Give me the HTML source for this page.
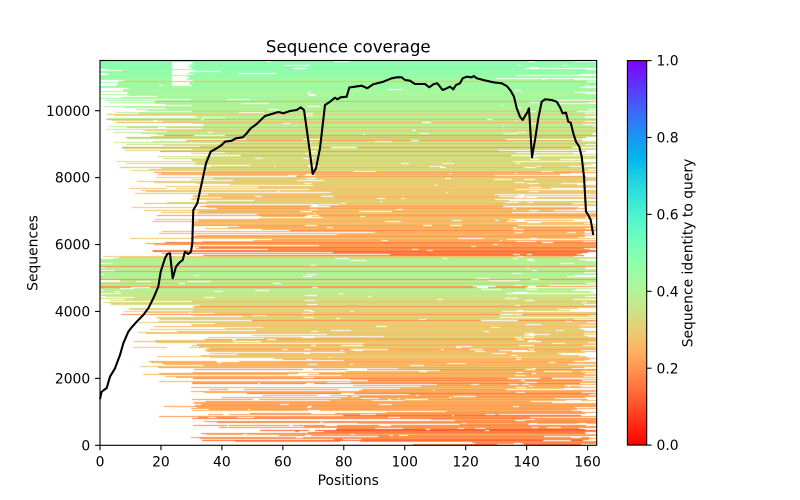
<!DOCTYPE html>
<html><head><meta charset="utf-8"><style>
html,body{margin:0;padding:0;background:#fff;width:800px;height:500px;overflow:hidden}
#c{position:absolute;left:100px;top:60px}
svg{position:absolute;left:0;top:0}
text{font-family:"DejaVu Sans","Liberation Sans",sans-serif;fill:#000}
</style></head><body>
<canvas id="c" width="497" height="385"></canvas>
<svg width="800" height="500" viewBox="0 0 800 500">
<defs>
<linearGradient id="cb" x1="0" y1="0" x2="0" y2="1">
<stop offset="0" stop-color="rgb(128,0,255)"/>
<stop offset="0.05" stop-color="rgb(102,40,254)"/>
<stop offset="0.1" stop-color="rgb(77,79,252)"/>
<stop offset="0.15" stop-color="rgb(51,116,248)"/>
<stop offset="0.2" stop-color="rgb(26,150,243)"/>
<stop offset="0.25" stop-color="rgb(0,180,236)"/>
<stop offset="0.3" stop-color="rgb(26,206,227)"/>
<stop offset="0.35" stop-color="rgb(51,227,218)"/>
<stop offset="0.4" stop-color="rgb(77,243,206)"/>
<stop offset="0.45" stop-color="rgb(102,252,194)"/>
<stop offset="0.5" stop-color="rgb(128,255,180)"/>
<stop offset="0.55" stop-color="rgb(153,252,165)"/>
<stop offset="0.6" stop-color="rgb(179,243,150)"/>
<stop offset="0.65" stop-color="rgb(204,227,133)"/>
<stop offset="0.7" stop-color="rgb(230,206,116)"/>
<stop offset="0.75" stop-color="rgb(255,180,98)"/>
<stop offset="0.8" stop-color="rgb(255,150,79)"/>
<stop offset="0.85" stop-color="rgb(255,116,59)"/>
<stop offset="0.9" stop-color="rgb(255,79,40)"/>
<stop offset="0.95" stop-color="rgb(255,40,20)"/>
<stop offset="1" stop-color="rgb(255,0,0)"/>
</linearGradient>
</defs>

<!-- coverage line -->
<polyline fill="none" stroke="#000" stroke-width="2.08" stroke-linejoin="round" points="100,399 101.5,392 103.3,390.5 106.7,388 110,376.7 115,368.3 120,355 123.3,343.3 128.3,331.7 131.7,327.3 136.7,321.7 143.3,315 148.3,308.3 153.3,298.3 158.3,286.7 160.7,271.7 165,258.3 167.3,254 170,253.3 172.7,278.3 176,266.7 179.3,262.7 182.7,260 185,251.7 188.3,254 191,251.7 192.3,243 193.3,210 197.3,203.3 201.7,183.3 206,163.3 210.7,151.7 216,148.7 221.7,145 225,141.7 231.7,140.7 236,138.3 242.7,137.3 246.7,133.3 250.7,128.3 256.7,124 260,120.7 265,116 271.7,114 278.3,112 283.3,113.3 290,111 296.7,110 300.7,107.3 304,110 307.3,133.3 310,153.3 312.7,174 316,168.3 320,148.3 325,105 330,101.7 335,97.7 337.3,99.3 340.7,97.3 346.7,96.7 349.3,87.5 355,86.7 361.7,85.7 367.3,88.3 373.3,84.3 383.3,81.7 391.7,78.3 396.7,77.3 401.7,77.3 405,80 410,80.7 415,84 425,84 429.3,87.3 433.3,84.3 437.3,83.3 442.7,90 446.7,88.3 450,86.7 453.3,89.3 456,85 460,83.3 462.7,78.3 466.7,76.7 471.7,77.3 474,76 476.7,78.3 483.3,80 493.3,82.3 501.7,83.3 506.7,86 510.7,90.7 514,96.7 516.7,108.3 520,116.7 522.7,120 526.7,113.3 529,108.3 532,157.3 535,140 538.3,118.3 541.7,101.7 545,99.3 551.7,100 556.7,101.7 560,107.3 562.7,113.3 566,112.7 568.3,121.7 570.7,122.7 573.3,133.3 576,141.7 579.3,146.7 581.7,156.7 584,176.7 586,211.7 588.3,215 590.7,220 593.3,235"/>

<!-- axes frame -->
<rect x="100" y="60.5" width="496.7" height="384.8" fill="none" stroke="#000" stroke-width="1.11"/>

<!-- x ticks -->
<g stroke="#000" stroke-width="1.11">
<line x1="100" y1="445.3" x2="100" y2="450.2"/>
<line x1="160.94" y1="445.3" x2="160.94" y2="450.2"/>
<line x1="221.89" y1="445.3" x2="221.89" y2="450.2"/>
<line x1="282.83" y1="445.3" x2="282.83" y2="450.2"/>
<line x1="343.78" y1="445.3" x2="343.78" y2="450.2"/>
<line x1="404.72" y1="445.3" x2="404.72" y2="450.2"/>
<line x1="465.66" y1="445.3" x2="465.66" y2="450.2"/>
<line x1="526.61" y1="445.3" x2="526.61" y2="450.2"/>
<line x1="587.55" y1="445.3" x2="587.55" y2="450.2"/>
<!-- y ticks -->
<line x1="100" y1="445.3" x2="95.1" y2="445.3"/>
<line x1="100" y1="378.38" x2="95.1" y2="378.38"/>
<line x1="100" y1="311.46" x2="95.1" y2="311.46"/>
<line x1="100" y1="244.54" x2="95.1" y2="244.54"/>
<line x1="100" y1="177.62" x2="95.1" y2="177.62"/>
<line x1="100" y1="110.7" x2="95.1" y2="110.7"/>
<!-- colorbar ticks -->
<line x1="646.7" y1="445.1" x2="651.6" y2="445.1"/>
<line x1="646.7" y1="368.2" x2="651.6" y2="368.2"/>
<line x1="646.7" y1="291.3" x2="651.6" y2="291.3"/>
<line x1="646.7" y1="214.4" x2="651.6" y2="214.4"/>
<line x1="646.7" y1="137.5" x2="651.6" y2="137.5"/>
<line x1="646.7" y1="60.6" x2="651.6" y2="60.6"/>
</g>

<g font-size="13.89" text-anchor="middle">
<text x="100" y="466.6">0</text>
<text x="160.94" y="466.6">20</text>
<text x="221.89" y="466.6">40</text>
<text x="282.83" y="466.6">60</text>
<text x="343.78" y="466.6">80</text>
<text x="404.72" y="466.6">100</text>
<text x="465.66" y="466.6">120</text>
<text x="526.61" y="466.6">140</text>
<text x="587.55" y="466.6">160</text>
</g>
<g font-size="13.89" text-anchor="end">
<text x="90.2" y="450.35">0</text>
<text x="90.2" y="383.43">2000</text>
<text x="90.2" y="316.51">4000</text>
<text x="90.2" y="249.59">6000</text>
<text x="90.2" y="182.67">8000</text>
<text x="90.2" y="115.75">10000</text>
</g>
<g font-size="13.89" text-anchor="start">
<text x="656.5" y="450.15">0.0</text>
<text x="656.5" y="373.25">0.2</text>
<text x="656.5" y="296.35">0.4</text>
<text x="656.5" y="219.45">0.6</text>
<text x="656.5" y="142.55">0.8</text>
<text x="656.5" y="65.65">1.0</text>
</g>

<text x="348.3" y="485" font-size="13.89" text-anchor="middle">Positions</text>
<text font-size="13.89" text-anchor="middle" transform="translate(37.6,253) rotate(-90)">Sequences</text>
<text x="348.3" y="52.7" font-size="16.67" text-anchor="middle">Sequence coverage</text>

<!-- colorbar -->
<rect x="627.4" y="60.6" width="19.3" height="384.5" fill="url(#cb)" stroke="#000" stroke-width="1.11"/>
<text font-size="13.89" text-anchor="middle" transform="translate(692.6,253) rotate(-90)">Sequence identity to query</text>
</svg>

<script>
(function(){
var cv=document.getElementById('c'),ctx=cv.getContext('2d');
ctx.fillStyle='#fff';ctx.fillRect(0,0,497,385);
var sd=987654321;
function R(){sd^=sd<<13;sd>>>=0;sd^=sd>>>17;sd^=sd<<5;sd>>>=0;return sd/4294967296;}
function interp(xs,ys,x){if(x<=xs[0])return ys[0];for(var i=1;i<xs.length;i++){if(x<=xs[i]){var t=(x-xs[i-1])/(xs[i]-xs[i-1]);return ys[i-1]+t*(ys[i]-ys[i-1]);}}return ys[ys.length-1];}
function col(v){v=Math.max(0,Math.min(1,v));var x=1-v;var r=Math.min(1,Math.abs(2*x-0.5)),g=Math.sin(Math.PI*x),b=Math.cos(Math.PI*x/2);return 'rgb('+Math.round(r*255)+','+Math.round(g*255)+','+Math.round(b*255)+')';}
function pois(l){var L=Math.exp(-l),p=1,k=0;do{k++;p*=R();}while(p>L);return k-1;}
var N=385,rows=[];
for(var r=0;r<N;r++){
 var y=60+r,base,bias,lam,sp;
 if(y<256){
  base=interp([60,64,70,80,100,120,140,160,180,200,220,240,248,252,256],[0.50,0.48,0.46,0.44,0.42,0.39,0.36,0.33,0.30,0.28,0.26,0.23,0.2,0.16,0.13],y);
  bias=interp([60,72,100,150,256],[0,0.15,0.35,0.6,0.75],y);
  sp=interp([60,90,110,150,250],[0,0.05,0.15,0.3,0.3],y);
  lam=interp([60,256],[0.3,0.8],y);
 }else{
  base=interp([256,260,290,300,330,360,390,420,445],[0.3,0.41,0.39,0.33,0.29,0.26,0.22,0.2,0.17],y);
  bias=interp([256,260,290,300,330,445],[0.3,0.05,0.1,0.45,0.7,0.85],y);
  sp=interp([256,290,300,445],[0.1,0.15,0.3,0.3],y);
  lam=interp([256,330,445],[0.5,0.8,1.3],y);
 }
 var v=base+(R()-0.5)*0.04;
 if(R()<sp){ if(base>0.3) v=0.18+R()*0.1; else v=base+(R()-0.5)*0.16; }
 rows.push({v:v,score:bias+R()*0.55,lam:lam,y:y});
}
var idx=[];for(var i=0;i<N;i++)idx.push(i);
idx.sort(function(a,b){return rows[a].score-rows[b].score;});
for(var k=0;k<N;k++){rows[idx[k]].u=(k+R())/N;}
var Fs=[0.12,0.18,0.23,0.30,0.34,0.38,0.45,0.50,0.51,0.61,0.68,0.76,0.79,0.82,0.86,0.87,0.88,0.90,0.94,0.97,1.0];
var Xs=[100,110,120,130,143,153,160,167,191,193,201,210,225,250,265,280,300,330,350,400,480];
for(var r=0;r<N;r++){
 var o=rows[r],y=o.y;
 var s=o.u<=0.12?100:interp(Fs,Xs,o.u);
 var v2=R(),e;
 if(v2<0.57)e=597;else e=interp([0.57,0.60,0.64,0.73,0.81,0.85,0.90,0.93,0.96,1.0],[597,590,586,584,579,573,566,545,510,495],v2);
 s=Math.round(s);e=Math.round(e);
 ctx.fillStyle=col(o.v);
 ctx.fillRect(s-100,r,e-s,1);
 ctx.fillStyle='#fff';
 var gap=function(a,b){a=Math.round(a);b=Math.round(b);if(b>a)ctx.fillRect(a-100,r,b-a,1);};
 if(y>=62&&y<=85&&R()<0.8)gap(172,185+R()*12);
 if(R()<0.19){var c=311+(R()-0.5)*8,w=3+R()*10;gap(c-w/2,c+w/2);}
 if(R()<0.07){var c2=519+(R()-0.5)*6,w2=3+R()*8;gap(c2-w2/2,c2+w2/2);}
 if(R()<0.13){var c3=532+(R()-0.5)*6,w3=3+R()*10;gap(c3-w3/2,c3+w3/2);}
 var n=pois(o.lam);
 for(var j=0;j<n;j++){var gx=s+R()*(e-s),gw=2+R()*R()*40;gap(gx,gx+gw);}
}
})();
</script>
</body></html>
